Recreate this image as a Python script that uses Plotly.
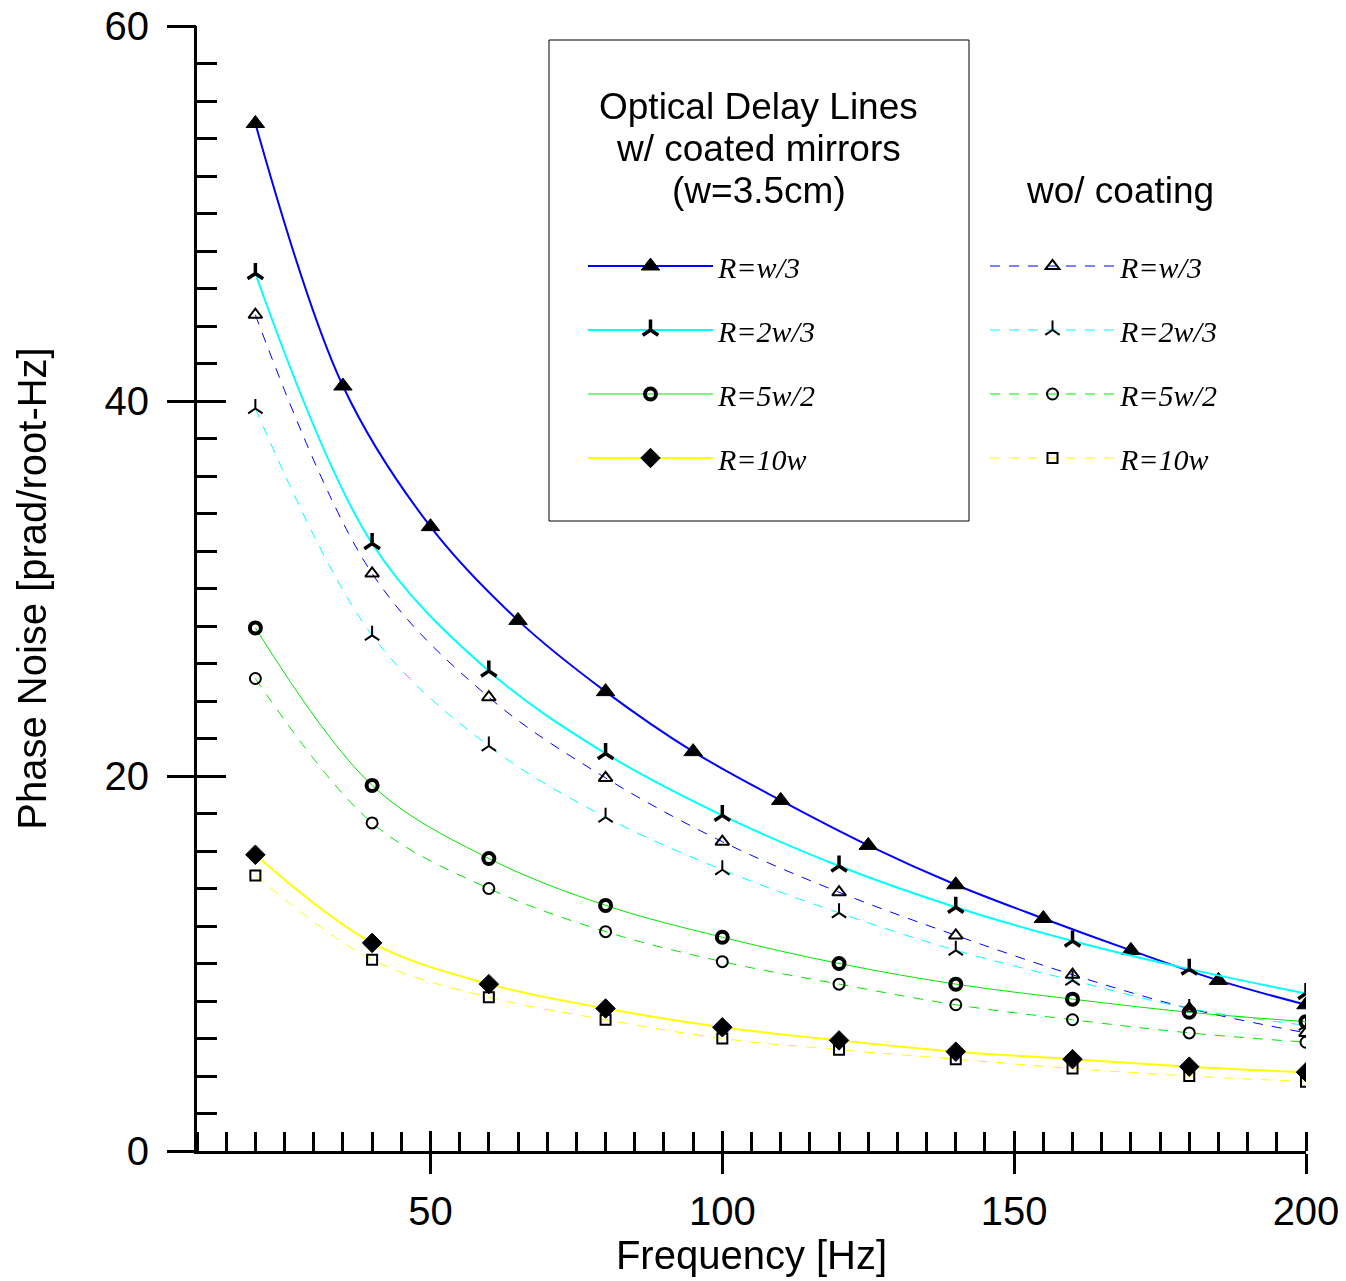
import plotly.graph_objects as go

# ---------------- data ----------------
freq_15 = [20, 35, 50, 65, 80, 95, 110, 125, 140, 155, 170, 185, 200]
freq_20 = [20, 40, 60, 80, 100, 120, 140, 160, 180, 200]

coated_w3 = [54.8, 40.8, 33.3, 28.3, 24.5, 21.3, 18.7, 16.3, 14.2, 12.4, 10.7, 9.1, 7.8]
coated_2w3 = [46.8, 32.4, 25.6, 21.2, 17.9, 15.2, 13.0, 11.2, 9.7, 8.4]
coated_5w2 = [27.9, 19.5, 15.6, 13.1, 11.4, 10.0, 8.9, 8.1, 7.4, 6.9]
coated_10w = [15.8, 11.1, 8.9, 7.6, 6.6, 5.9, 5.3, 4.9, 4.5, 4.2]

uncoated_w3 = [44.6, 30.8, 24.2, 19.9, 16.5, 13.8, 11.5, 9.4, 7.6, 6.3]
uncoated_2w3 = [39.6, 27.5, 21.6, 17.8, 15.0, 12.7, 10.7, 9.1, 7.6, 6.7]
uncoated_5w2 = [25.2, 17.5, 14.0, 11.7, 10.1, 8.9, 7.8, 7.0, 6.3, 5.8]
uncoated_10w = [14.7, 10.2, 8.2, 7.0, 6.0, 5.4, 4.9, 4.4, 4.0, 3.7]

labels = ["R=w/3", "R=2w/3", "R=5w/2", "R=10w"]
legend_title_coated = ["Optical Delay Lines", "w/ coated mirrors", "(w=3.5cm)"]
legend_title_uncoated = "wo/ coating"
x_title = "Frequency [Hz]"
y_title = "Phase Noise [prad/root-Hz]"

BLUE, CYAN, GREEN, YELLOW = "#0000ff", "#00ffff", "#00e600", "#ffff00"

SANS = "Liberation Sans, Arial, sans-serif"
SERIF = "Liberation Serif, Times New Roman, serif"

fig = go.Figure()

def add(x, y, name, color, width, dash, symbol, msize, mlw, legend, group):
    fig.add_trace(go.Scatter(
        x=x, y=y, name=name, mode="lines+markers",
        line=dict(color=color, width=width, dash=dash, shape="spline", smoothing=1.0),
        marker=dict(symbol=symbol, size=msize, color="black",
                    line=dict(color="black", width=mlw)),
        legend=legend, legendgroup=group, hoverinfo="x+y+name",
    ))

DASH = "10px,9px"
# uncoated (dashed) first so coated draw on top
add(freq_20, uncoated_w3, labels[0], BLUE, 1, DASH, "triangle-up-open", 12, 2, "legend2", "u1")
add(freq_20, uncoated_2w3, labels[1], CYAN, 1, DASH, "y-up", 12, 2, "legend2", "u2")
add(freq_20, uncoated_5w2, labels[2], GREEN, 1, DASH, "circle-open", 11, 2, "legend2", "u3")
add(freq_20, uncoated_10w, labels[3], YELLOW, 1, DASH, "square-open", 10, 2, "legend2", "u4")

add(freq_15, coated_w3, labels[0], BLUE, 2, "solid", "triangle-up", 16, 1, "legend", "c1")
add(freq_20, coated_2w3, labels[1], CYAN, 2, "solid", "y-up", 13, 3.5, "legend", "c2")
add(freq_20, coated_5w2, labels[2], GREEN, 1, "solid", "circle-open", 11, 4, "legend", "c3")
add(freq_20, coated_10w, labels[3], YELLOW, 2, "solid", "diamond", 15, 1, "legend", "c4")

# invisible trace carrying the overlay axes (other halves of the major ticks)
fig.add_trace(go.Scatter(x=freq_20, y=coated_2w3, xaxis="x2", yaxis="y2",
                         mode="markers", opacity=0, showlegend=False, hoverinfo="skip"))

tickfont = dict(family=SANS, size=40, color="black")

fig.update_layout(
    width=1346, height=1281,
    margin=dict(l=197, r=40, t=26, b=130, autoexpand=False),
    paper_bgcolor="white", plot_bgcolor="white",
    font=dict(family=SANS, color="black"),
    xaxis=dict(
        range=[10, 200], showgrid=False, zeroline=False, automargin=False,
        showline=True, linecolor="black", linewidth=3,
        ticks="outside", ticklen=20, tickwidth=3, tickcolor="black",
        tick0=0, dtick=50, tickfont=tickfont, ticklabelstandoff=3,
        minor=dict(ticks="inside", ticklen=19, tickwidth=3, tickcolor="black",
                   tick0=0, dtick=5, showgrid=False),
        title=dict(text=x_title, font=dict(family=SANS, size=40, color="black"), standoff=4),
    ),
    yaxis=dict(
        range=[0, 60], showgrid=False, zeroline=False, automargin=False,
        showline=True, linecolor="black", linewidth=3,
        ticks="inside", ticklen=29, tickwidth=3, tickcolor="black",
        tick0=0, dtick=20, tickfont=tickfont, ticklabelstandoff=37,
        minor=dict(ticks="inside", ticklen=20, tickwidth=3, tickcolor="black",
                   tick0=0, dtick=2, showgrid=False),
        title=dict(text=y_title, font=dict(family=SANS, size=40, color="black"), standoff=46),
    ),
    xaxis2=dict(range=[10, 200], overlaying="x", anchor="y", side="bottom", automargin=False,
                showgrid=False, zeroline=False, showline=False,
                ticks="inside", ticklen=20, tickwidth=3, tickcolor="black",
                tick0=0, dtick=50, showticklabels=False),
    yaxis2=dict(range=[0, 60], overlaying="y", anchor="x", side="left", automargin=False,
                showgrid=False, zeroline=False, showline=False,
                ticks="outside", ticklen=29, tickwidth=3, tickcolor="black",
                tick0=0, dtick=20, showticklabels=False),
    legend=dict(
        x=(583 - 197) / 1109, y=(1151 - 240) / 1125, xanchor="left", yanchor="top",
        bgcolor="rgba(0,0,0,0)", borderwidth=0,
        font=dict(family=SERIF, size=30, color="black", style="italic"),
        itemwidth=125, traceorder="grouped", tracegroupgap=22,
    ),
    legend2=dict(
        x=(985 - 197) / 1109, y=(1151 - 240) / 1125, xanchor="left", yanchor="top",
        bgcolor="rgba(0,0,0,0)", borderwidth=0,
        font=dict(family=SERIF, size=30, color="black", style="italic"),
        itemwidth=125, traceorder="grouped", tracegroupgap=22,
    ),
    showlegend=True,
)

# legend frame
fig.add_shape(type="rect", xref="paper", yref="paper",
              x0=(549 - 197) / 1109, x1=(969 - 197) / 1109,
              y0=(1151 - 521) / 1125, y1=(1151 - 40) / 1125,
              line=dict(color="black", width=1), fillcolor="rgba(0,0,0,0)", layer="below")

title_font = dict(family=SANS, size=37, color="black")
for txt, py in zip(legend_title_coated, [107, 149, 191]):
    fig.add_annotation(text=txt, xref="paper", yref="paper",
                       x=(758.5 - 197) / 1109, y=(1151 - py) / 1125,
                       xanchor="center", yanchor="middle", showarrow=False, font=title_font)
fig.add_annotation(text=legend_title_uncoated, xref="paper", yref="paper",
                   x=(1120 - 197) / 1109, y=(1151 - 191) / 1125,
                   xanchor="center", yanchor="middle", showarrow=False, font=title_font)

fig.write_html("out.html", config={"displayModeBar": False},
               post_script="document.body.style.margin='0';")
